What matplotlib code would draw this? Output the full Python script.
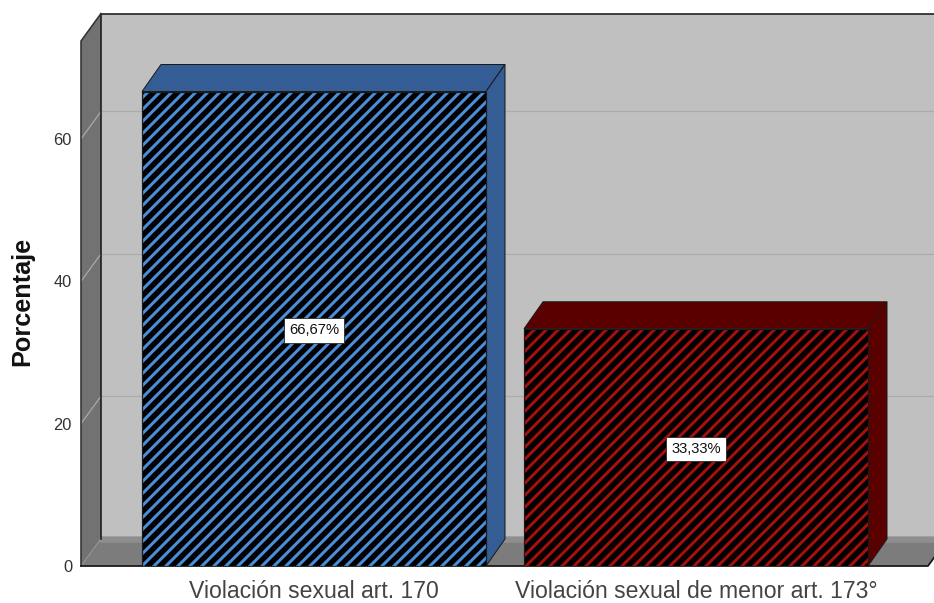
import matplotlib
matplotlib.use("Agg")
import matplotlib.pyplot as plt
from matplotlib.patches import Polygon

categories = ["Violación sexual art. 170", "Violación sexual de menor art. 173°"]
values = [66.67, 33.33]
value_labels = ["66,67%", "33,33%"]
y_ticks = [0, 20, 40, 60]
y_title = "Porcentaje"
face_colors = ["#4A8FDB", "#A80E0E"]
side_colors = ["#335D94", "#5A0000"]

W, H, DPI = 934, 603, 144
plt.rcParams["hatch.linewidth"] = 1.5
FONT = "Liberation Sans"

fig = plt.figure(figsize=(W / DPI, H / DPI), dpi=DPI, facecolor="white")
L, R, B, T = 81, 934, 566, 41
ax = fig.add_axes([L / W, 1 - B / H, (R - L) / W, (B - T) / H])
ax.set_facecolor("none")
PX_X = 382.0
PX_Y = 7.117
ax.set_xlim((L - 314) / PX_X, (R - 314) / PX_X)
ax.set_ylim(0, (B - T) / PX_Y)
for s in ax.spines.values():
    s.set_visible(False)
dx, dy = 20 / PX_X, 27.5 / PX_Y
bar_dx, bar_dy = 19 / PX_X, 27 / PX_Y
x0 = ax.get_xlim()[0]
x1 = (928 - 314) / PX_X
ytop = ax.get_ylim()[1]
EDGE = "#1a1a1a"

def poly(pts, fc, ec="none", lw=0, z=1, clip=False):
    p = Polygon(pts, closed=True, facecolor=fc, edgecolor=ec, linewidth=lw, zorder=z, clip_on=clip, joinstyle="miter")
    ax.add_patch(p)

# walls
poly([(x0 + dx, dy), (x1 + dx, dy), (x1 + dx, ytop + dy), (x0 + dx, ytop + dy)], "#C0C0C0", z=1)
poly([(x0, 0), (x0 + dx, dy), (x0 + dx, ytop + dy), (x0, ytop)], "#727272", z=1.5)
poly([(x0, 0), (x0 + dx, dy), (x1 + dx, dy), (x1, 0)], "#7C7C7C", z=1.5)
poly([(x0 + dx - 0.004, dy), (x0 + dx, dy + 0.3), (x1 + dx, dy + 0.3), (x1 + dx, dy - 0.6), (x0 + dx - 0.004, dy - 0.6)], "#8E8E8E", z=1.6)

# gridlines
for t in y_ticks[1:]:
    ax.plot([x0 + dx, x1 + dx], [t + dy, t + dy], color="#ABABAB", lw=0.6, zorder=2, clip_on=False)
    ax.plot([x0, x0 + dx], [t, t + dy], color="#ABABAB", lw=0.6, zorder=2, clip_on=False)
ax.plot([x0, x0 + dx], [0, dy], color="#999999", lw=0.5, ls=(0, (2, 1)), zorder=2, clip_on=False)

# wall outlines
ax.plot([x0 + dx, x0 + dx, x1 + dx], [dy, ytop + dy, ytop + dy], color=EDGE, lw=0.8, zorder=3, clip_on=False)
ax.plot([x0, x0, x0 + dx], [0, ytop, ytop + dy], color="#333333", lw=0.8, zorder=3, clip_on=False)
ax.plot([x0, x1, x1 + dx], [0, 0, dy], color=EDGE, lw=0.9, zorder=3, clip_on=False)

# bars
xs = list(range(len(values)))
width = 344 / PX_X
for x, v, fc, sc in zip(xs, values, face_colors, side_colors):
    a, b = x - width / 2, x + width / 2
    poly([(a, v), (a + bar_dx, v + bar_dy), (b + bar_dx, v + bar_dy), (b, v)], sc, EDGE, 0.5, z=4)
    poly([(b, 0), (b + bar_dx, bar_dy), (b + bar_dx, v + bar_dy), (b, v)], sc, EDGE, 0.5, z=4)
ax.bar(xs, values, width, color="black", edgecolor=face_colors, hatch="////", linewidth=0, zorder=5)
ax.bar(xs, values, width, fill=False, edgecolor=EDGE, linewidth=0.6, zorder=6)

for x, v, lab in zip(xs, values, value_labels):
    ax.text(x, v / 2, lab, ha="center", va="center_baseline", fontsize=7.4, family=FONT, color="#111111", zorder=7,
            bbox=dict(boxstyle="square,pad=0.36", facecolor="white", edgecolor="#222222", linewidth=0.4))

ax.set_xticks(xs, categories, family=FONT, fontsize=11.5, color="#444444")
ax.set_yticks(y_ticks, [str(t) for t in y_ticks], family=FONT, fontsize=8.2, color="#333333")
ax.tick_params(axis="both", length=0)
ax.tick_params(axis="x", pad=7)
ax.tick_params(axis="y", pad=4.5)
fig.text(22 / W, 1 - 301 / H, y_title, rotation=90, ha="center", va="center", family=FONT,
         weight="bold", fontsize=12.6, color="#111111")
fig.savefig("out.png", dpi=DPI)
